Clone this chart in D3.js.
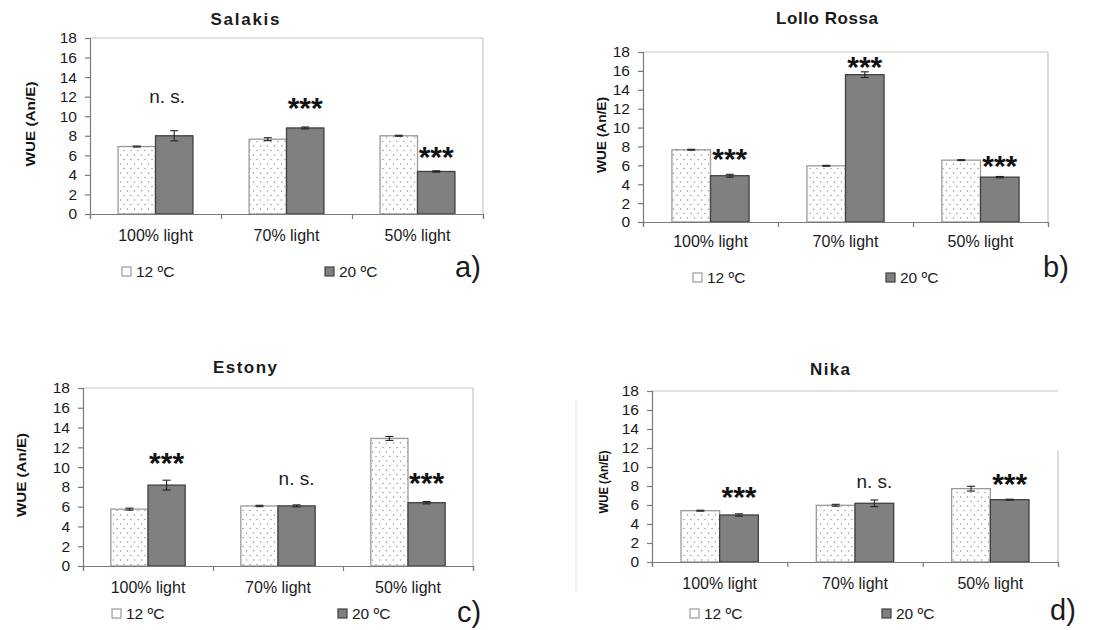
<!DOCTYPE html>
<html><head><meta charset="utf-8">
<script src="https://cdn.jsdelivr.net/npm/d3@7"></script>
<style>body{margin:0;background:#fff;} text{font-family:"Liberation Sans",Arial,sans-serif;}</style>
</head><body>
<svg id="c" width="1097" height="630"></svg>
<script>
const categories = ["100% light", "70% light", "50% light"];
const seriesNames = ["12 ºC", "20 ºC"];
const yTicks = [0, 2, 4, 6, 8, 10, 12, 14, 16, 18];
const panelTitles = ["Salakis", "Lollo Rossa", "Estony", "Nika"];
const panelLetters = ["a)", "b)", "c)", "d)"];
const yLabel = "WUE (An/E)";

// WUE values (12 ºC, 20 ºC) per panel
const salakis12 = [6.9, 7.65, 8.0];
const salakis20 = [8.0, 8.8, 4.35];
const salakisErr12 = [0.05, 0.15, 0.05];
const salakisErr20 = [0.52, 0.1, 0.07];
const salakisSig = ["n. s.", "***", "***"];
const salakisSigY = [12.0, 11.6, 6.5];

const lollo12 = [7.65, 5.95, 6.55];
const lollo20 = [4.9, 15.6, 4.75];
const lolloErr12 = [0.05, 0.05, 0.05];
const lolloErr20 = [0.15, 0.3, 0.07];
const lolloSig = ["***", "***", "***"];
const lolloSigY = [7.4, 17.2, 6.7];

const estony12 = [5.75, 6.07, 12.9];
const estony20 = [8.18, 6.08, 6.4];
const estonyErr12 = [0.1, 0.07, 0.2];
const estonyErr20 = [0.5, 0.1, 0.12];
const estonySig = ["***", "n. s.", "***"];
const estonySigY = [11.1, 8.8, 9.1];

const nika12 = [5.4, 5.97, 7.72];
const nika20 = [4.95, 6.18, 6.56];
const nikaErr12 = [0.05, 0.1, 0.25];
const nikaErr20 = [0.12, 0.35, 0.05];
const nikaSig = ["***", "n. s.", "***"];
const nikaSigY = [7.6, 8.4, 8.9];

const panelData = [
  {v: [salakis12, salakis20], e: [salakisErr12, salakisErr20], sig: salakisSig, sigY: salakisSigY},
  {v: [lollo12, lollo20], e: [lolloErr12, lolloErr20], sig: lolloSig, sigY: lolloSigY},
  {v: [estony12, estony20], e: [estonyErr12, estonyErr20], sig: estonySig, sigY: estonySigY},
  {v: [nika12, nika20], e: [nikaErr12, nikaErr20], sig: nikaSig, sigY: nikaSigY}
];

// layout (pixels)
const layouts = [
  {left:90, right:483, top:38, bottom:214, titleX:245, titleY:25, titleLen:69, ylx:30, yly:124, ylLen:85, catY:241,
   legY:277, leg1:122, leg2:325, letX:455, letY:277, rightTop:38, topRight:483},
  {left:643, right:1048, top:52, bottom:222, titleX:827, titleY:24, titleLen:102, ylx:601, yly:135, ylLen:76, catY:247,
   legY:283, leg1:693, leg2:886, letX:1043, letY:277, rightTop:52, topRight:1048},
  {left:83, right:473, top:388, bottom:566, titleX:245, titleY:373, titleLen:64, ylx:21, yly:475, ylLen:84, catY:593,
   legY:619, leg1:112, leg2:338, letX:457, letY:622, rightTop:388, topRight:473},
  {left:652, right:1058, top:391, bottom:562, titleX:830, titleY:375, titleLen:40, ylx:603, yly:482, ylLen:63, catY:589,
   legY:619, leg1:690, leg2:882, letX:1050, letY:620, rightTop:450, topRight:1058}
];

const svg = d3.select("#c");
const defs = svg.append("defs");
const pat = defs.append("pattern").attr("id","dots").attr("patternUnits","userSpaceOnUse")
  .attr("width", 7).attr("height", 9);
pat.append("rect").attr("width",7).attr("height",9).attr("fill","#fff");
pat.append("circle").attr("cx",1.5).attr("cy",2).attr("r",0.7).attr("fill","#8a8a8a");
pat.append("circle").attr("cx",5).attr("cy",6.5).attr("r",0.7).attr("fill","#8a8a8a");

const fills = ["url(#dots)", "#808080"];
const strokes = ["#9a9a9a", "#404040"];

// faint frame line at left of panel d
svg.append("line").attr("x1",576).attr("x2",576).attr("y1",400).attr("y2",593)
  .attr("stroke","#e6e6e6").attr("stroke-width",1);

panelData.forEach((pd, pi) => {
  const L = layouts[pi];
  const g = svg.append("g");
  const x0 = d3.scaleBand().domain(categories).range([L.left, L.right]).paddingInner(0).paddingOuter(0);
  const x1 = d3.scaleBand().domain([0,1]).range([0, x0.bandwidth()]).paddingInner(0).paddingOuter(0.75);
  const y = d3.scaleLinear().domain([0, 18]).range([L.bottom, L.top]);

  // plot border (top & right)
  g.append("line").attr("x1", L.left).attr("x2", L.topRight).attr("y1", L.top).attr("y2", L.top)
    .attr("stroke", "#c4c4c4").attr("stroke-width", 1.2);
  g.append("line").attr("x1", L.right).attr("x2", L.right).attr("y1", L.rightTop).attr("y2", L.bottom)
    .attr("stroke", "#c4c4c4").attr("stroke-width", 1.2);

  // bars
  [0,1].forEach(si => {
    g.selectAll(null).data(pd.v[si]).enter().append("rect")
      .attr("x", (d,i) => x0(categories[i]) + x1(si))
      .attr("y", d => y(d))
      .attr("width", x1.bandwidth())
      .attr("height", d => y(0) - y(d))
      .attr("fill", fills[si]).attr("stroke", strokes[si]).attr("stroke-width", 1.3);
  });

  // error bars
  [0,1].forEach(si => {
    pd.v[si].forEach((d,i) => {
      const e = pd.e[si][i];
      const cx = x0(categories[i]) + x1(si) + x1.bandwidth()/2;
      const eg = g.append("g").attr("stroke","#222").attr("stroke-width",1.1);
      eg.append("line").attr("x1",cx).attr("x2",cx).attr("y1",y(d+e)).attr("y2",y(d-e));
      eg.append("line").attr("x1",cx-4).attr("x2",cx+4).attr("y1",y(d+e)).attr("y2",y(d+e));
      eg.append("line").attr("x1",cx-4).attr("x2",cx+4).attr("y1",y(d-e)).attr("y2",y(d-e));
    });
  });

  // y axis
  const ya = g.append("g").attr("transform", `translate(${L.left},0)`)
    .call(d3.axisLeft(y).tickValues(yTicks).tickSize(5).tickPadding(8).tickFormat(d3.format("d")));
  ya.select(".domain").attr("stroke","#7a7a7a").attr("stroke-width",1.2);
  ya.selectAll(".tick line").attr("stroke","#7a7a7a").attr("stroke-width",1.2);
  ya.selectAll(".tick text").attr("fill","#1a1a1a").style("font-size","15.5px")
    .style("font-family","'Liberation Sans',Arial,sans-serif");

  // x axis line and category ticks
  const xa = g.append("g").attr("transform", `translate(0,${L.bottom})`)
    .call(d3.axisBottom(d3.scaleLinear().domain([0,3]).range([L.left, L.right])).tickValues([0,1,2,3]).tickSize(5).tickFormat(""));
  xa.select(".domain").attr("stroke","#7a7a7a").attr("stroke-width",1.2);
  xa.selectAll(".tick line").attr("stroke","#7a7a7a").attr("stroke-width",1.2);

  // category labels
  g.selectAll(null).data(categories).enter().append("text")
    .attr("x", d => x0(d) + x0.bandwidth()/2).attr("y", L.catY)
    .attr("text-anchor","middle").attr("fill","#1a1a1a").style("font-size","16px").text(d => d);

  // significance labels (centered over 20 ºC bar)
  pd.sig.forEach((s,i) => {
    const cx = x0(categories[i]) + x1(1) + x1.bandwidth()/2 + (s === "n. s." && pi === 0 ? -7 : 0);
    if (s === "***") {
      g.append("text").attr("x", cx).attr("y", y(pd.sigY[i]) + 17).attr("text-anchor","middle")
        .attr("fill","#111").style("font-size","30px").style("font-weight","bold").text(s);
    } else {
      g.append("text").attr("x", cx).attr("y", y(pd.sigY[i]) + 6).attr("text-anchor","middle")
        .attr("fill","#222").style("font-size","19px").text(s);
    }
  });

  // title
  g.append("text").attr("x", L.titleX).attr("y", L.titleY).attr("text-anchor","middle")
    .attr("fill","#1a1a1a").style("font-size","17px").style("font-weight","bold")
    .attr("textLength", L.titleLen).attr("lengthAdjust","spacing").text(panelTitles[pi]);

  // y label
  g.append("text").attr("transform", `translate(${L.ylx + 5},${L.yly}) rotate(-90)`)
    .attr("text-anchor","middle").attr("fill","#111").style("font-size","13px").style("font-weight","bold")
    .attr("textLength", L.ylLen).attr("lengthAdjust","spacingAndGlyphs").text(yLabel);

  // legend
  [L.leg1, L.leg2].forEach((lx, si) => {
    g.append("rect").attr("x", lx).attr("y", L.legY - 10).attr("width", 9).attr("height", 9)
      .attr("fill", si === 0 ? "#fff" : "#808080").attr("stroke", strokes[si]).attr("stroke-width", 1.2);
    g.append("text").attr("x", lx + 14).attr("y", L.legY).attr("fill","#1a1a1a")
      .style("font-size","15.5px").text(seriesNames[si]);
  });

  // panel letter
  g.append("text").attr("x", L.letX).attr("y", L.letY).attr("fill","#1a1a1a")
    .style("font-size","29px").text(panelLetters[pi]);
});
</script>
</body></html>
